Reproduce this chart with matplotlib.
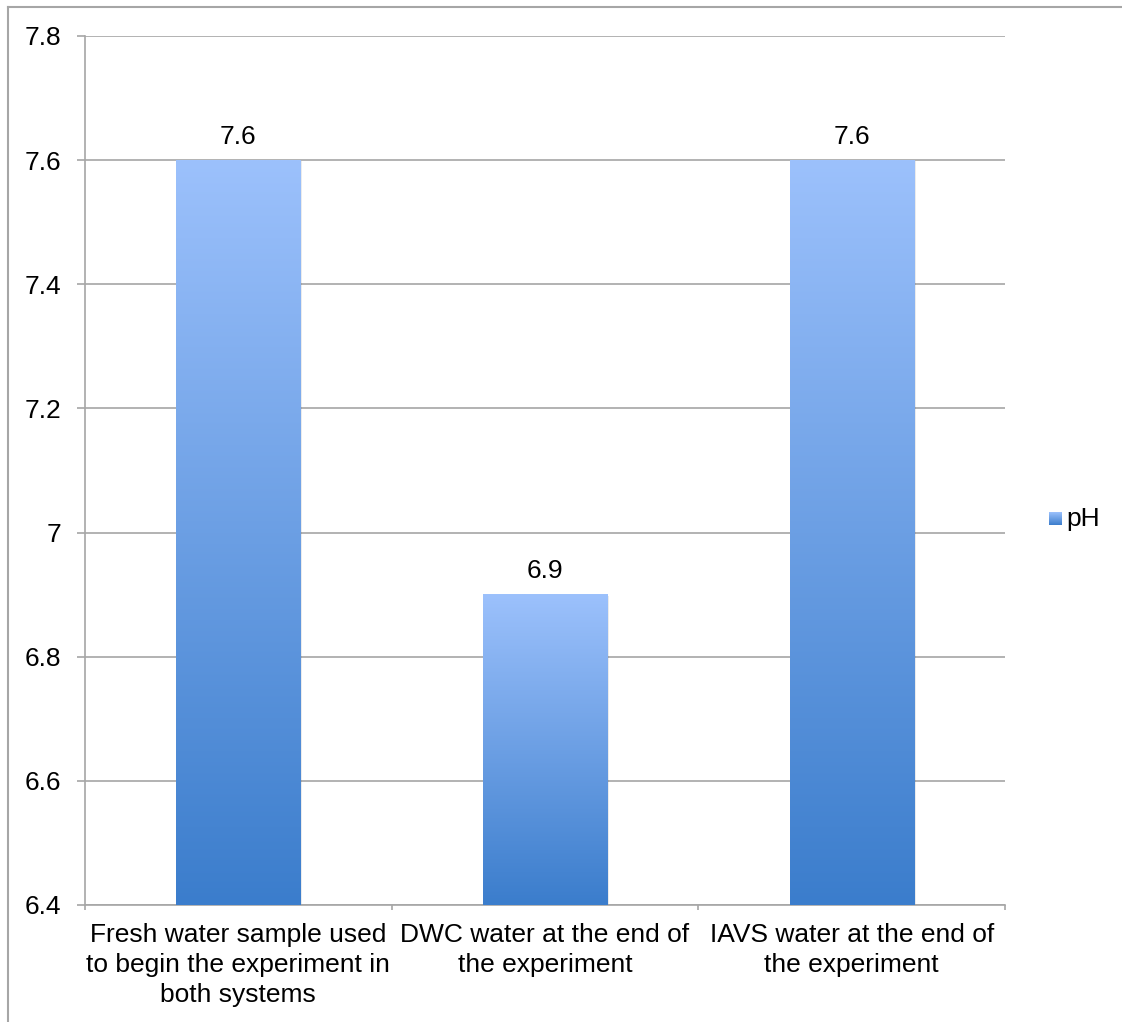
import numpy as np
import matplotlib
matplotlib.use("Agg")
import matplotlib.pyplot as plt
from matplotlib.colors import LinearSegmentedColormap
from matplotlib.patches import Rectangle
from matplotlib.lines import Line2D

categories = [
    "Fresh water sample used\nto begin the experiment in\nboth systems",
    "DWC water at the end of\nthe experiment",
    "IAVS water at the end of\nthe experiment",
]
ph_values = [7.6, 6.9, 7.6]
y_ticks = [6.4, 6.6, 6.8, 7.0, 7.2, 7.4, 7.6, 7.8]
y_tick_labels = ["6.4", "6.6", "6.8", "7", "7.2", "7.4", "7.6", "7.8"]
series_name = "pH"

plt.rcParams["font.family"] = ["Liberation Sans", "DejaVu Sans"]
FS = 19

W, H, DPI = 1122, 1022, 100
fig = plt.figure(figsize=(W / DPI, H / DPI), dpi=DPI)

# outer chart frame (top and left edges visible)
fig.add_artist(Line2D([8 / W, 8 / W], [0, 1 - 7 / H], color="#a6a6a6", lw=1.5,
                      transform=fig.transFigure))
fig.add_artist(Line2D([8 / W, 1], [1 - 7 / H, 1 - 7 / H], color="#a6a6a6", lw=1.5,
                      transform=fig.transFigure))

ax = fig.add_axes([85 / W, 1 - 905 / H, (1005 - 85) / W, (905 - 36) / H])
ymin, ymax = 6.4, 7.8

cmap = LinearSegmentedColormap.from_list("bar", ["#3b7dcc", "#9cc1fc"])
grad = np.linspace(0, 1, 256).reshape(-1, 1)
bar_w = 0.405
for i, v in enumerate(ph_values):
    x0 = i + 0.5 - bar_w / 2
    # soft drop shadow
    ax.add_patch(Rectangle((x0 + 0.006, ymin), bar_w, v - ymin - 0.002,
                           facecolor="#000000", alpha=0.08, lw=0, zorder=2))
    ax.imshow(grad, extent=(x0, x0 + bar_w, ymin, v), origin="lower",
              cmap=cmap, aspect="auto", zorder=3)
    ax.text(i + 0.5, v + 0.018, f"{v:g}", ha="center", va="bottom",
            fontsize=FS, color="#000000", zorder=4)
ax.set_xlim(0, len(categories))
ax.set_ylim(ymin, ymax)

ax.set_yticks(y_ticks)
ax.set_yticklabels(y_tick_labels, fontsize=FS)
ax.yaxis.grid(True, color="#a6a6a6", lw=1.2)
ax.set_axisbelow(True)

ax.set_xticks([0, 1, 2, 3])
ax.set_xticklabels([])
ax.set_xticks([0.5, 1.5, 2.5], minor=True)
ax.set_xticklabels(categories, minor=True, fontsize=FS, linespacing=1.32)
ax.tick_params(axis="x", which="minor", length=0, pad=13)
ax.tick_params(axis="x", which="major", length=3.8, color="#a6a6a6", width=1.2)
ax.tick_params(axis="y", length=5.8, color="#a6a6a6", width=1.2, pad=11.5)

for side in ["top", "right"]:
    ax.spines[side].set_visible(False)
for side in ["left", "bottom"]:
    ax.spines[side].set_color("#a6a6a6")
    ax.spines[side].set_linewidth(1.2)

# legend
lx, ly = 1049, 519
leg_ax = fig.add_axes([lx / W, 1 - (ly + 6) / H, 13 / W, 13 / H])
leg_ax.imshow(grad, origin="lower", cmap=cmap, aspect="auto")
leg_ax.set_axis_off()
fig.text(1066 / W, 1 - ly / H, series_name, fontsize=FS, va="center", ha="left")

fig.savefig("out.png", dpi=DPI, facecolor="white")
